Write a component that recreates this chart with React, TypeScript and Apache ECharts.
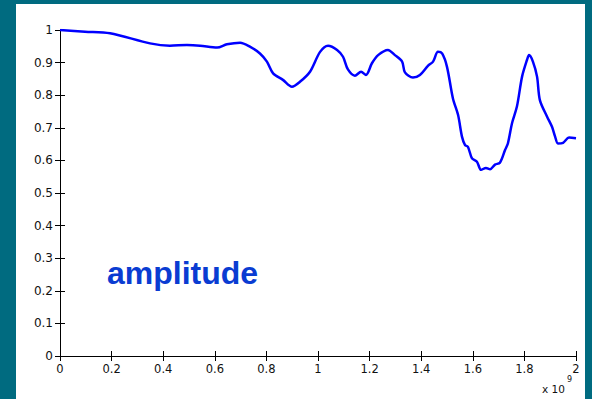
import React, { useEffect, useRef } from "react";
import * as echarts from "echarts";

// frequency (x 10^9)
const freqs: number[] = [
  0, 0.097, 0.194, 0.349, 0.426, 0.492, 0.543, 0.609, 0.647, 0.698,
  0.736, 0.775, 0.802, 0.826, 0.864, 0.899, 0.93, 0.969, 1.008, 1.039,
  1.074, 1.097, 1.116, 1.143, 1.167, 1.186, 1.209, 1.233, 1.271, 1.298,
  1.326, 1.337, 1.368, 1.395, 1.426, 1.446, 1.465, 1.481, 1.5, 1.523,
  1.543, 1.558, 1.57, 1.581, 1.597, 1.616, 1.632, 1.651, 1.667, 1.686,
  1.705, 1.725, 1.736, 1.752, 1.771, 1.791, 1.81, 1.818, 1.833, 1.849,
  1.86, 1.888, 1.907, 1.919, 1.93, 1.95, 1.973, 2.0,
];

const amplitude: number[] = [
  1.0, 0.995, 0.99, 0.959, 0.952, 0.954, 0.952, 0.946, 0.956, 0.961,
  0.949, 0.928, 0.903, 0.867, 0.847, 0.826, 0.841, 0.872, 0.933, 0.952,
  0.939, 0.918, 0.879, 0.86, 0.872, 0.862, 0.898, 0.923, 0.939, 0.923,
  0.903, 0.87, 0.854, 0.862, 0.89, 0.903, 0.933, 0.928, 0.887, 0.79,
  0.739, 0.673, 0.647, 0.642, 0.606, 0.596, 0.571, 0.577, 0.573, 0.587,
  0.593, 0.632, 0.652, 0.714, 0.765, 0.857, 0.908, 0.923, 0.903, 0.857,
  0.785, 0.734, 0.703, 0.673, 0.652, 0.654, 0.67, 0.668,
];

const xTickInterval = 0.2;
const yTickInterval = 0.1;
const labelText = "amplitude";
const exponentBase = "x 10";
const exponent = "9";

const fmt = (v: number) => String(Math.round(v * 10) / 10);

export default function App() {
  const ref = useRef<HTMLDivElement>(null);

  useEffect(() => {
    document.body.style.margin = "0";
    if (!ref.current) return;
    const chart = echarts.init(ref.current, undefined, { renderer: "svg" });
    const font = "DejaVu Sans, Liberation Sans, Arial, sans-serif";
    const axisLine = { show: true, lineStyle: { color: "#000", width: 1 } };
    const tick = { show: true, inside: true, length: 5, lineStyle: { color: "#000" } };
    chart.setOption({
      animation: false,
      backgroundColor: "transparent",
      grid: { left: 60, right: 16, top: 30, bottom: 43, containLabel: false },
      xAxis: [
        {
          type: "value",
          min: 0,
          max: 2,
          interval: xTickInterval,
          axisLine,
          axisTick: tick,
          splitLine: { show: false },
          axisLabel: {
            formatter: fmt,
            fontFamily: font,
            fontSize: 11.5,
            color: "#111",
            margin: 7,
          },
        },
        {
          type: "value",
          position: "top",
          min: 0,
          max: 2,
          interval: xTickInterval,
          axisLine,
          axisTick: tick,
          splitLine: { show: false },
          axisLabel: { show: false },
        },
      ],
      yAxis: [
        {
          type: "value",
          min: 0,
          max: 1,
          interval: yTickInterval,
          axisLine,
          axisTick: tick,
          splitLine: { show: false },
          axisLabel: {
            formatter: fmt,
            fontFamily: font,
            fontSize: 12,
            color: "#111",
            margin: 7,
          },
        },
        {
          type: "value",
          position: "right",
          min: 0,
          max: 1,
          interval: yTickInterval,
          axisLine,
          axisTick: tick,
          splitLine: { show: false },
          axisLabel: { show: false },
        },
      ],
      graphic: [
        {
          type: "text",
          left: 107,
          top: 257,
          style: {
            text: labelText,
            fill: "#0a3cd2",
            font: "bold 32px 'Liberation Sans', Arial, sans-serif",
          },
        },
        {
          type: "text",
          left: 542,
          top: 383,
          style: {
            text: exponentBase,
            fill: "#111",
            font: "10.5px 'DejaVu Sans', sans-serif",
          },
        },
        {
          type: "text",
          left: 567,
          top: 375,
          style: {
            text: exponent,
            fill: "#111",
            font: "8px 'DejaVu Sans', sans-serif",
          },
        },
      ],
      series: [
        {
          type: "line",
          data: freqs.map((f, i) => [f, amplitude[i]]),
          showSymbol: false,
          smooth: 0.3,
          lineStyle: { color: "#0000ff", width: 2.5 },
          clip: true,
        },
      ],
    });
    return () => chart.dispose();
  }, []);

  return (
    <div
      style={{
        position: "fixed",
        left: 0,
        top: 0,
        width: 592,
        height: 399,
        background: "#006b80",
      }}
    >
      <div
        style={{
          position: "absolute",
          left: 16,
          top: 4,
          width: 569,
          height: 395,
          background: "#ffffff",
        }}
      />
      <div
        ref={ref}
        style={{ position: "absolute", left: 0, top: 0, width: 592, height: 399 }}
      />
    </div>
  );
}
